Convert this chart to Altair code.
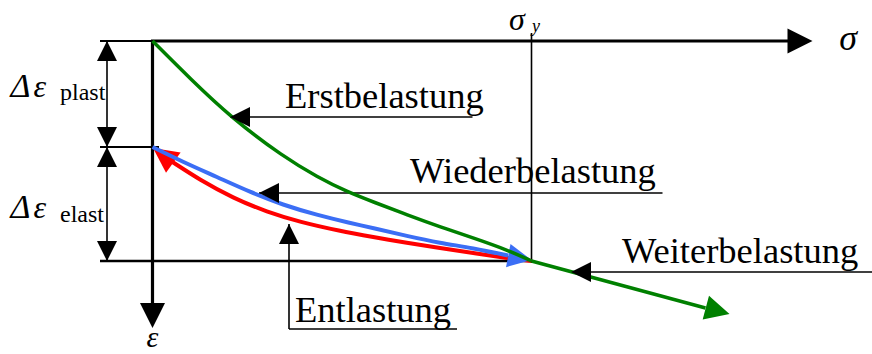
import math

import altair as alt
import pandas as pd

# Schematic stress-strain sketch: sigma to the right, epsilon downward,
# origin at the corner of the two axes (one data unit = one pixel).
SIGMA_Y = 379      # yield stress
EPS_PLAST = 106    # plastic strain left after unloading
EPS_TOTAL = 220    # strain reached at sigma_y
SIGMA_END = 660    # tip of the sigma axis
EPS_END = 287      # tip of the epsilon axis
DIM_SIGMA = -45.5  # position of the strain dimension line

# Erstbelastung (first loading) up to sigma_y
ERST_SIGMA = [0, 38, 78, 131, 165, 195, 221, 255, 288, 321, 355, SIGMA_Y]
ERST_EPS = [0, 38, 76, 116, 136, 151, 161, 174, 186, 197, 209, EPS_TOTAL]

# Weiterbelastung: straight continuation beyond sigma_y
WEITER_SIGMA = [SIGMA_Y, 553]
WEITER_EPS = [EPS_TOTAL, 267]
WEITER_TIP = (577, 273)

# Wiederbelastung (reloading) from the plastic offset back to sigma_y
WIEDER_SIGMA = [0, 30.5, 64.5, 97.5, 130.5, 164.5, 197.5, 220.5, 254.5, 287.5, 320.5, 355.5]
WIEDER_EPS = [EPS_PLAST, 121, 136, 151, 164, 174, 182, 187, 195, 202, 207, 214.5]
WIEDER_TIP = (SIGMA_Y, 219)

# Entlastung (unloading) from sigma_y back to the plastic offset
ENT_SIGMA = [20, 47.5, 80.5, 114.5, 147.5, 187.5, 220.5, 254.5, 287.5, 320.5, 354.5, SIGMA_Y]
ENT_EPS = [121, 139, 157, 171, 181, 190, 196, 202, 207, 212, 217, EPS_TOTAL]
ENT_TIP = (0.5, 107)

# Leader lines: first point carries the arrowhead
LEADERS = {
    "Erstbelastung": [(77.5, 76), (320, 76)],
    "Wiederbelastung": [(106.5, 152), (510, 152)],
    "Weiterbelastung": [(418.5, 231), (720, 231)],
    "Entlastung": [(136.5, 183), (136.5, 288), (304.5, 288)],
}
LEADER_TEXT_POS = {
    "Erstbelastung": (132.5, 67),
    "Wiederbelastung": (257.5, 142),
    "Weiterbelastung": (469.5, 222),
    "Entlastung": (142.5, 281),
}

GREEN = "#008000"
BLUE = "#3b6ef5"
RED = "#ff0000"
SERIF = "Liberation Serif"
HEAD = "M0,0L-2,-1L-2,1Z"

X = alt.Scale(domain=[-152.5, 719.5], nice=False, zero=False)
Y = alt.Scale(domain=[-41, 313], reverse=True, nice=False, zero=False)


def xy():
    return dict(x=alt.X("sigma:Q", scale=X, axis=None),
                y=alt.Y("eps:Q", scale=Y, axis=None))


def curve(sig, eps, color, width, interp="basis"):
    df = pd.DataFrame({"sigma": sig, "eps": eps, "i": range(len(sig))})
    return alt.Chart(df).mark_line(
        color=color, strokeWidth=width, interpolate=interp, strokeCap="butt"
    ).encode(**xy(), order="i:Q")


def heads(pairs, color, size):
    rows = []
    for (ts, te), (fs, fe) in pairs:
        ang = math.degrees(math.atan2(te - fe, ts - fs)) % 360
        rows.append({"sigma": ts, "eps": te, "angle": ang})
    return alt.Chart(pd.DataFrame(rows)).mark_point(
        shape=HEAD, filled=True, opacity=1, strokeWidth=0, color=color, size=size
    ).encode(**xy(), angle=alt.Angle("angle:Q", scale=None))


def rules(segs, width):
    df = pd.DataFrame(segs, columns=["sigma", "eps", "sigma2", "eps2"])
    return alt.Chart(df).mark_rule(
        color="black", strokeWidth=width, strokeCap="butt"
    ).encode(**xy(), x2="sigma2:Q", y2="eps2:Q")


def texts(items, size, italic=False, align="left"):
    df = pd.DataFrame(items, columns=["sigma", "eps", "label"])
    return alt.Chart(df).mark_text(
        align=align, baseline="alphabetic", font=SERIF, fontSize=size,
        fontStyle="italic" if italic else "normal", color="black"
    ).encode(**xy(), text="label:N")


leader_segs = []
for pts in LEADERS.values():
    for a, b in zip(pts[:-1], pts[1:]):
        leader_segs.append((a[0], a[1], b[0], b[1]))

layers = [
    # axes
    rules([(-1.5, 0, SIGMA_END - 20, 0), (0, 0, 0, EPS_END - 20)], 3.2),
    # strain reference lines and dimension line
    rules([(-52.5, 0, 0, 0), (-52.5, EPS_PLAST, 6.5, EPS_PLAST)], 2),
    rules([(-52.5, EPS_TOTAL, SIGMA_Y, EPS_TOTAL)], 2.5),
    rules([(DIM_SIGMA, 0, DIM_SIGMA, EPS_TOTAL), (SIGMA_Y, -8, SIGMA_Y, 222)], 1.6),
    rules(leader_segs, 1.6),
    # curves
    curve(ENT_SIGMA, ENT_EPS, RED, 4),
    heads([(ENT_TIP, (ENT_SIGMA[0], ENT_EPS[0]))], RED, 625),
    curve(WIEDER_SIGMA, WIEDER_EPS, BLUE, 4),
    heads([(WIEDER_TIP, (WIEDER_SIGMA[-1], WIEDER_EPS[-1]))], BLUE, 560),
    curve(ERST_SIGMA, ERST_EPS, GREEN, 3.5),
    curve(WEITER_SIGMA, WEITER_EPS, GREEN, 3.5, interp="linear"),
    heads([(WEITER_TIP, (WEITER_SIGMA[0], WEITER_EPS[0]))], GREEN, 600),
    # black arrowheads
    heads([((SIGMA_END, 0), (0, 0)), ((0, EPS_END), (0, 0))], "black", 625),
    heads([
        ((DIM_SIGMA, 0), (DIM_SIGMA, EPS_PLAST)),
        ((DIM_SIGMA, EPS_PLAST), (DIM_SIGMA, 0)),
        ((DIM_SIGMA, EPS_PLAST), (DIM_SIGMA, EPS_TOTAL)),
        ((DIM_SIGMA, EPS_TOTAL), (DIM_SIGMA, EPS_PLAST)),
    ] + [(pts[0], pts[1]) for pts in LEADERS.values()], "black", 400),
    # labels
    texts([(*LEADER_TEXT_POS[k], k) for k in LEADERS], 36.5),
    texts([(695.5, 9, "σ")], 36, italic=True, align="center"),
    texts([(0, 306, "ε")], 30, italic=True, align="center"),
    texts([(356.5, -11, "σ")], 32, italic=True),
    texts([(379.5, -9, "y")], 18, italic=True),
    texts([(-142, 56, "Δ"), (-142, 177, "Δ")], 34, italic=True),
    texts([(-119, 56, "ε"), (-119, 177, "ε")], 32, italic=True),
    texts([(-92.5, 59, "plast"), (-92.5, 181, "elast")], 24),
]

chart = alt.layer(*layers).properties(
    width=872, height=354, padding=0, autosize="none", background="white"
).configure_view(stroke=None)

chart.save("out.html", embed_options={"renderer": "svg", "actions": False})
